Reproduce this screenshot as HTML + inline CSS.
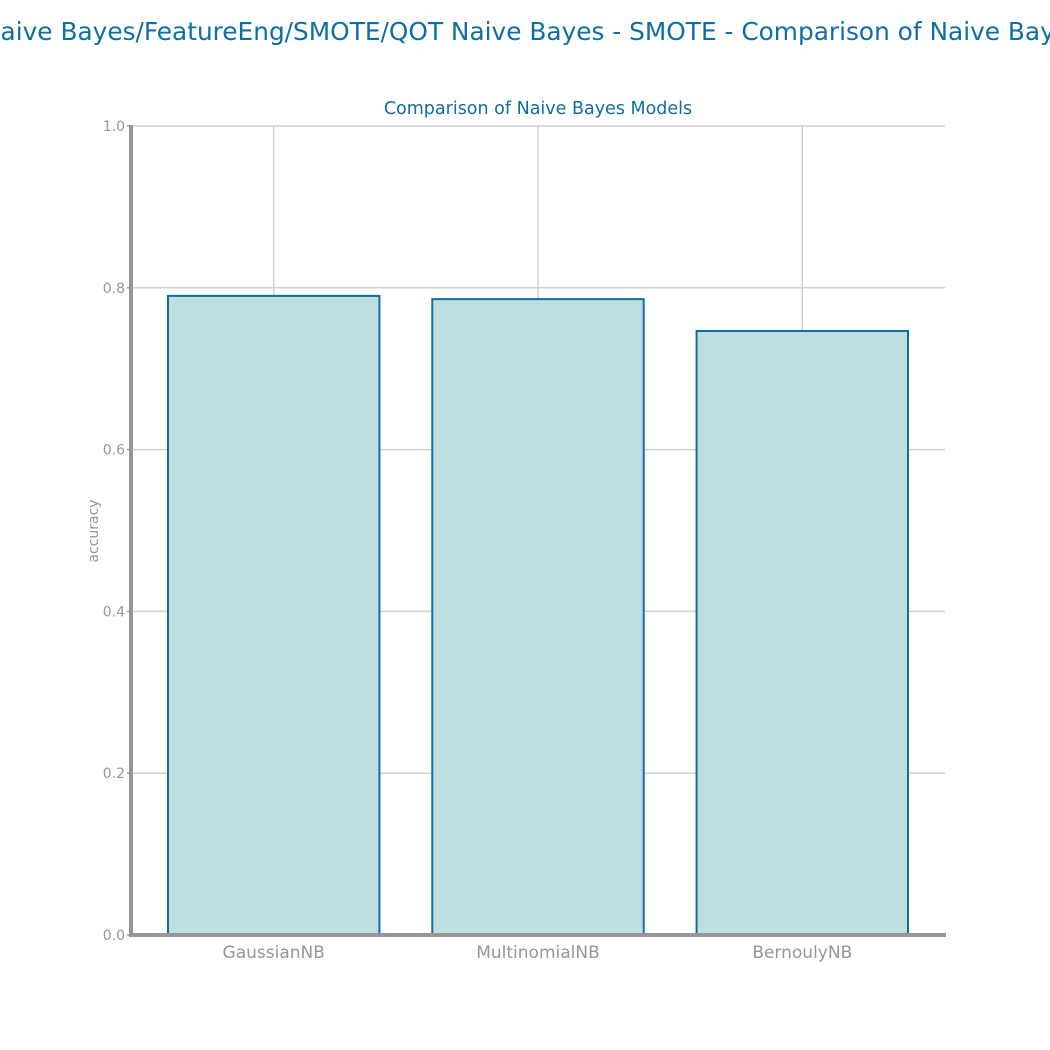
<!DOCTYPE html>
<html><head><meta charset="utf-8"><style>
html,body{margin:0;padding:0;background:#fff;}
svg{display:block;font-family:"DejaVu Sans","Liberation Sans",sans-serif;}
</style></head><body>
<svg id="chart" width="1050" height="1050" viewBox="0 0 1050 1050">
<text x="-18" y="40" text-anchor="start" font-size="24.8" fill="#106ea0">Naive Bayes/FeatureEng/SMOTE/QOT Naive Bayes - SMOTE - Comparison of Naive Bayes Models</text>
<text x="538" y="114" text-anchor="middle" font-size="17.5" fill="#106ea0">Comparison of Naive Bayes Models</text>
<text transform="translate(98,531) rotate(-90)" text-anchor="middle" font-size="14" fill="#969696">accuracy</text>
<g id="grid"></g><g id="bars"></g><g id="axes"></g>
</svg>
<script>
const categories = ["GaussianNB","MultinomialNB","BernoulyNB"];
const accuracy = [0.790, 0.786, 0.7466];
const yTicks = [0.0,0.2,0.4,0.6,0.8,1.0];
const yTickLabels = ["0.0","0.2","0.4","0.6","0.8","1.0"];

const NS="http://www.w3.org/2000/svg";
const X0=131,X1=945,Y0=935,Y1=126;
const xMin=-0.54,xMax=2.54;
const xs=v=>X0+(v-xMin)/(xMax-xMin)*(X1-X0);
const ys=v=>Y0-(v-0)/(1-0)*(Y0-Y1);
function mk(tag,attrs,parent){const e=document.createElementNS(NS,tag);for(const k in attrs)e.setAttribute(k,attrs[k]);parent.appendChild(e);return e;}
const grid=document.getElementById('grid'),bars=document.getElementById('bars'),axes=document.getElementById('axes');
yTicks.forEach((t,i)=>{
  const g=mk('line',{x1:X0,x2:X1,y1:ys(t),y2:ys(t),stroke:'#d0d0d0','stroke-width':1.5},grid);
  
  
  const tk=mk('line',{x1:X0-4,x2:X0,y1:ys(t),y2:ys(t),stroke:'#969696','stroke-width':1.5},axes);
  
  
  const tx=mk('text',{x:X0-6,y:ys(t)+5,'text-anchor':'end','font-size':14,fill:'#969696'},axes);
  tx.textContent=yTickLabels[i];
  
  
});
categories.forEach((c,i)=>{
  const g=mk('line',{x1:xs(i),x2:xs(i),y1:Y1,y2:Y0,stroke:'#d0d0d0','stroke-width':1.5},grid);
  
  
  const w=0.8*(xs(1)-xs(0));
  const r=mk('rect',{x:xs(i)-w/2,y:ys(accuracy[i]),width:w,height:ys(0)-ys(accuracy[i]),fill:'#bfdee0',stroke:'#106ea0','stroke-width':2},bars);
  
  
  const tx=mk('text',{x:xs(i),y:958,'text-anchor':'middle','font-size':17,fill:'#969696'},axes);
  tx.textContent=c;
  
  
});
const ya=mk('line',{x1:X0,x2:X0,y1:Y1-1,y2:Y0+2,stroke:'#969696','stroke-width':4},axes);


const xa=mk('line',{x1:X0-2,x2:X1+1,y1:Y0,y2:Y0,stroke:'#969696','stroke-width':4},axes);


</script>
</body></html>
